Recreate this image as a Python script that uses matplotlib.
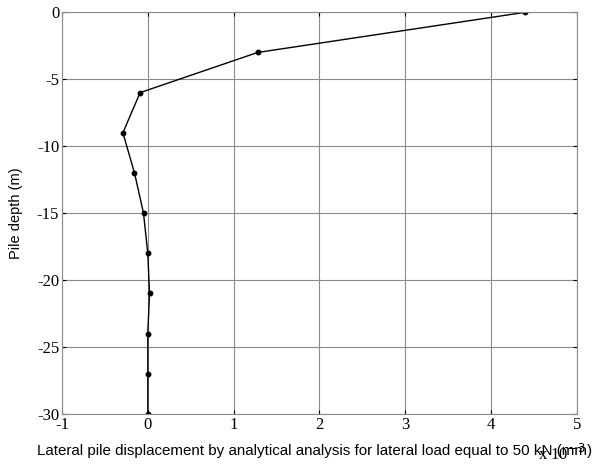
import matplotlib
matplotlib.use("Agg")
import matplotlib.pyplot as plt

plt.rcParams["axes.unicode_minus"] = False

# displacement (x 10^-3 mm) at each depth (m)
depth = [0, -3, -6, -9, -12, -15, -18, -21, -24, -27, -30]
displacement = [4.40, 1.28, -0.09, -0.29, -0.155, -0.05, 0.0, 0.02, 0.0, 0.0, 0.0]

x_ticks = [-1, 0, 1, 2, 3, 4, 5]
y_ticks = [0, -5, -10, -15, -20, -25, -30]

fig = plt.figure(figsize=(6.02, 4.66), dpi=100)
ax = fig.add_axes([0.103, 0.1116, 0.855, 0.862])

ax.plot(displacement, depth, color="black", linewidth=1, marker="o", markersize=3.2)

ax.set_xlim(-1, 5)
ax.set_ylim(-30, 0)
ax.set_xticks(x_ticks)
ax.set_yticks(y_ticks)
ax.grid(True, color="#8a8a8a", linewidth=0.8)
ax.set_axisbelow(True)

for spine in ax.spines.values():
    spine.set_color("#8a8a8a")
    spine.set_linewidth(0.8)

ax.tick_params(direction="in", length=3, width=0.8, color="black",
               top=True, right=True, pad=2)
for lab in ax.get_xticklabels() + ax.get_yticklabels():
    lab.set_fontfamily("Liberation Serif")
    lab.set_fontsize(12)

ax.set_xlabel("Lateral pile displacement by analytical analysis for lateral load equal to 50 kN (mm)",
              fontfamily="Liberation Sans", fontsize=10.9)
ax.xaxis.set_label_coords(0.49, -0.075)
ax.set_ylabel("Pile depth (m)", fontfamily="Liberation Sans", fontsize=10.5, labelpad=10)

fig.text(0.893, 0.012, r"x 10$^{-3}$", fontfamily="Liberation Serif", fontsize=12)

fig.savefig("out.png", dpi=100)
